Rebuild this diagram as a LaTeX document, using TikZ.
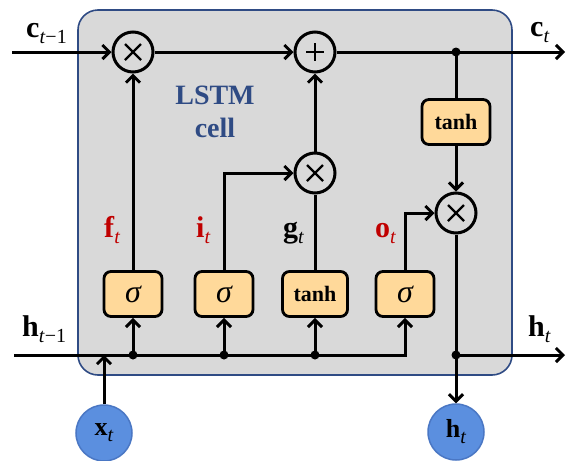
\documentclass[tikz,border=0pt]{standalone}
\usepackage{fontspec}
\setmainfont{Liberation Serif}
\usetikzlibrary{arrows.meta,calc}
\definecolor{cellfill}{HTML}{D9D9D9}
\definecolor{cellline}{HTML}{2F4B84}
\definecolor{gatefill}{HTML}{FFD99A}
\definecolor{iofill}{HTML}{5B8FDF}
\definecolor{ioline}{HTML}{4A77C4}
\definecolor{gatered}{HTML}{C00000}
\newcommand{\mysub}[1]{\raisebox{-6pt}{\fontsize{20}{20}\selectfont #1}}
\begin{document}
\begin{tikzpicture}[x=1pt,y=-1pt,
  op/.style={circle,draw,line width=3pt,minimum size=40pt,inner sep=0pt},
  mul/.style={op,path picture={\draw[line width=2.4pt] ($(path picture bounding box.center)+(-8,-8)$) -- ($(path picture bounding box.center)+(8,8)$);
     \draw[line width=2.4pt] ($(path picture bounding box.center)+(-8,8)$) -- ($(path picture bounding box.center)+(8,-8)$);}},
  addop/.style={op,path picture={\draw[line width=2.4pt] ($(path picture bounding box.center)+(-9,0)$) -- ($(path picture bounding box.center)+(9,0)$);
     \draw[line width=2.4pt] ($(path picture bounding box.center)+(0,-9)$) -- ($(path picture bounding box.center)+(0,9)$);}},
  gate/.style={rectangle,rounded corners=7pt,draw,line width=2.8pt,fill=gatefill,minimum width=58pt,minimum height=45pt,inner sep=0pt},
  iocircle/.style={circle,draw=ioline,line width=1.5pt,fill=iofill,minimum size=56pt,inner sep=0pt,font=\fontsize{26}{26}\selectfont},
  conn/.style={line width=3pt,-{Straight Barb[length=7pt,width=14pt,line width=3pt]}},
  plain/.style={line width=3pt},
  jdot/.style={circle,fill,inner sep=0pt,minimum size=9pt},
  lbl/.style={anchor=base west,inner sep=0pt,font=\fontsize{30}{30}\selectfont},
  sig/.style={font=\fontsize{32}{32}\selectfont\itshape},
  tnh/.style={font=\fontsize{22}{22}\selectfont\bfseries}
]
\useasboundingbox (0,0) rectangle (566,461);
% cell
\node[draw=cellline,fill=cellfill,line width=1.6pt,rounded corners=20pt,minimum width=434pt,minimum height=365pt,inner sep=0pt] (cell) at (295,192.5) {};
\node[align=center,text=cellline,font=\fontsize{28}{33}\selectfont\bfseries] (title) at (215,112) {LSTM\\cell};
% operators
\node[mul] (mf) at (133,52) {};
\node[addop] (add) at (315,52) {};
\node[mul] (mi) at (315,173) {};
\node[mul] (mo) at (456,213) {};
% gates
\node[gate,sig] (fs) at (133,294) {σ};
\node[gate,sig] (is) at (224,294) {σ};
\node[gate,tnh,minimum width=65pt] (gt) at (315,294) {tanh};
\node[gate,sig] (os) at (405,294) {σ};
\node[gate,tnh,minimum width=68pt] (th) at (456,122) {tanh};
% io
\node[iocircle] (xt) at (104,433) {\textbf{x}\mysub{\textit{t}}};
\node[iocircle] (ht) at (456,432) {\textbf{h}\mysub{\textit{t}}};
% coordinates
\coordinate (cin) at (12,52);
\coordinate (cout) at (565,52);
\coordinate (hin) at (14,355);
\coordinate (hout) at (565,355);
\coordinate (xin) at (104,355);
\node[jdot] (dc) at (456,52) {};
\node[jdot] (d1) at (133,355) {};
\node[jdot] (d2) at (224,355) {};
\node[jdot] (d3) at (315,355) {};
\node[jdot] (dh) at (456,355) {};
% cell state line
\draw[conn] (cin) -- (mf.west);
\draw[conn] (mf.east) -- (add.west);
\draw[conn] (add.east) -- (cout);
\draw[plain] (dc.center) -- (th.north);
\draw[conn] (th.south) -- (mo.north);
% gates up
\draw[conn] (fs.north) -- (mf.south);
\draw[conn] (is.north) |- (mi.west);
\draw[plain] (gt.north) -- (mi.south);
\draw[conn] (mi.north) -- (add.south);
\draw[conn] (os.north) |- (mo.west);
% hidden line
\draw[conn] (hin) -| (os.south);
\draw[conn] (d1.center) -- (fs.south);
\draw[conn] (d2.center) -- (is.south);
\draw[conn] (d3.center) -- (gt.south);
\draw[conn] (xt.north) -- (xin);
\draw[conn] (mo.south) -- (ht.north);
\draw[conn] (dh.center) -- (hout);
% labels
\node[lbl] (lc0) at (26,37) {\textbf{c}\mysub{\textit{t}−1}};
\node[lbl] (lc1) at (530,36) {\textbf{c}\mysub{\textit{t}}};
\node[lbl] (lh0) at (22,336) {\textbf{h}\mysub{\textit{t}−1}};
\node[lbl] (lh1) at (528,336) {\textbf{h}\mysub{\textit{t}}};
\node[lbl,text=gatered] (lf) at (104,237) {\textbf{f}\mysub{\textit{t}}};
\node[lbl,text=gatered] (li) at (196,237) {\textbf{i}\mysub{\textit{t}}};
\node[lbl] (lg) at (283,237) {\textbf{g}\mysub{\textit{t}}};
\node[lbl,text=gatered] (lo) at (375,237) {\textbf{o}\mysub{\textit{t}}};
\end{tikzpicture}
\end{document}
